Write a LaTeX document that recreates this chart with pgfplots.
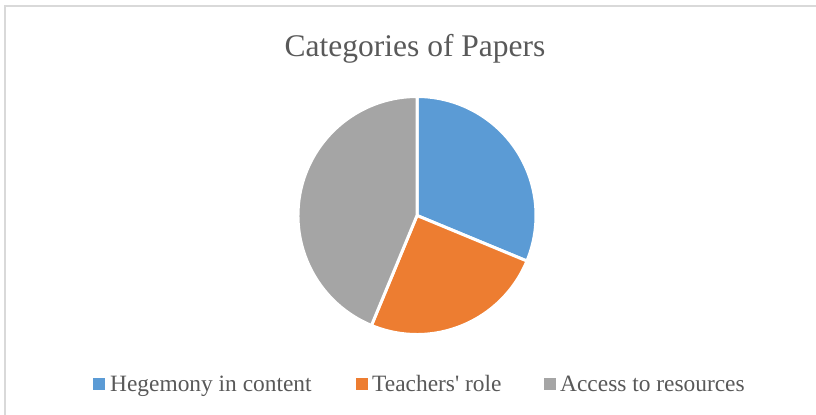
\documentclass[border=0pt]{standalone}
\usepackage{fontspec}
\setmainfont{Liberation Serif}[Ligatures=TeXOff]
\usepackage{pgfplots}
\usepackage{pgfplotstable}
\pgfplotsset{compat=1.18}
\definecolor{cblue}{HTML}{5B9BD5}
\definecolor{corange}{HTML}{ED7D31}
\definecolor{cgray}{HTML}{A5A5A5}
\definecolor{ctext}{HTML}{595959}
\definecolor{cframe}{HTML}{D9D9D9}
\pgfplotstableread{
cat value
Hegemony 5
Teachers 4
Access 7
}\piedata
\pgfplotstablegetelem{0}{value}\of\piedata\let\va\pgfplotsretval%
\pgfplotstablegetelem{1}{value}\of\piedata\let\vb\pgfplotsretval%
\pgfplotstablegetelem{2}{value}\of\piedata\let\vc\pgfplotsretval%
\pgfmathsetmacro{\tot}{\va+\vb+\vc}%
\pgfmathsetmacro{\aA}{90}%
\pgfmathsetmacro{\aB}{\aA-360*\va/\tot}%
\pgfmathsetmacro{\aC}{\aB-360*\vb/\tot}%
\pgfmathsetmacro{\aD}{\aC-360*\vc/\tot}%
\begin{document}%
\begin{tikzpicture}
\begin{axis}[width=816bp,height=415bp,scale only axis,hide axis,
  xmin=0,xmax=816,ymin=0,ymax=415,clip=false]
\fill[white] (axis cs:0,0) rectangle (axis cs:816,415);
\draw[cframe, line width=1.5bp] (axis cs:5,0) -- (axis cs:5,409) -- (axis cs:816,409);
\filldraw[fill=cblue, draw=white, line width=3bp, line join=round] (axis cs:417,199.5) -- ++(\aA:119bp) arc[start angle=\aA, end angle=\aB, radius=119bp] -- cycle;
\filldraw[fill=corange, draw=white, line width=3bp, line join=round] (axis cs:417,199.5) -- ++(\aB:119bp) arc[start angle=\aB, end angle=\aC, radius=119bp] -- cycle;
\filldraw[fill=cgray, draw=white, line width=3bp, line join=round] (axis cs:417,199.5) -- ++(\aC:119bp) arc[start angle=\aC, end angle=\aD, radius=119bp] -- cycle;
\node[anchor=base, text=ctext, font=\fontsize{31.5bp}{36bp}\selectfont, inner sep=0pt] at (axis cs:415,358) {Categories of Papers};
\fill[cblue] (axis cs:93,25) rectangle (axis cs:105,37);
\node[anchor=base west, text=ctext, font=\fontsize{23.4bp}{28bp}\selectfont, inner sep=0pt] at (axis cs:110,24) {Hegemony in content};
\fill[corange] (axis cs:356,25) rectangle (axis cs:368,37);
\node[anchor=base west, text=ctext, font=\fontsize{23.4bp}{28bp}\selectfont, inner sep=0pt] at (axis cs:372,24) {Teachers' role};
\fill[cgray] (axis cs:544,25) rectangle (axis cs:556,37);
\node[anchor=base west, text=ctext, font=\fontsize{23.4bp}{28bp}\selectfont, inner sep=0pt] at (axis cs:560,24) {Access to resources};
\end{axis}
\pgfresetboundingbox
\path[use as bounding box] (current axis.south west) rectangle (current axis.north east);
\end{tikzpicture}%
\end{document}
